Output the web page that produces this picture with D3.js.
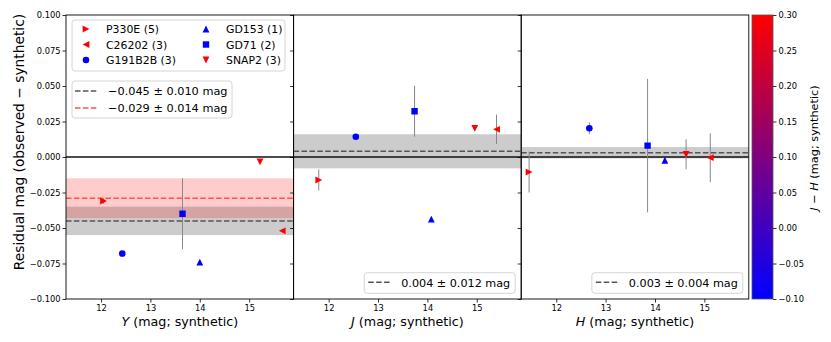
<!DOCTYPE html>
<html>
<head>
<meta charset="utf-8">
<script src="https://cdn.jsdelivr.net/npm/d3@7"></script>
<style>
  body { margin: 0; background: #fff; }
  text { font-family: "DejaVu Sans", sans-serif; }
</style>
</head>
<body>
<div id="chart"></div>
<script>
// stars, in legend order
var stars = ['P330E', 'C26202', 'G191B2B', 'GD153', 'GD71', 'SNAP2'];
var counts = [5, 3, 3, 1, 2, 3];
var shapes = ['right', 'left', 'circle', 'up', 'square', 'down'];
var jhColor = [0.34, 0.33, -0.15, -0.14, -0.16, 0.36]; // J-H, clipped by colour scale

// per band: synthetic magnitude, residual, error
var bands = ['Y', 'J', 'H'];
var magY = [12.05, 15.67, 12.43, 14.0, 13.65, 15.22];
var resY = [-0.031, -0.052, -0.068, -0.074, -0.040, -0.0035];
var errY = [0.002, 0.001, 0.001, 0.001, 0.025, 0.001];
var magJ = [11.8, 15.4, 12.55, 14.08, 13.74, 14.96];
var resJ = [-0.0162, 0.0195, 0.0143, -0.0437, 0.0322, 0.0202];
var errJ = [0.0075, 0.0103, 0.001, 0.001, 0.0179, 0.001];
var magH = [11.45, 15.12, 12.67, 14.2, 13.85, 14.63];
var resH = [-0.0106, -0.0005, 0.0202, -0.0023, 0.0080, 0.0019];
var errH = [0.0144, 0.0172, 0.0042, 0.001, 0.047, 0.0105];

// mean offsets (grey) and the alternative one in Y (red)
var meanVal = [-0.045, 0.004, 0.003];
var meanErr = [0.010, 0.012, 0.004];
var altMean = -0.029, altErr = 0.014;

var yTicks = [0.100, 0.075, 0.050, 0.025, 0.000, -0.025, -0.050, -0.075, -0.100];
var xTicks = [12, 13, 14, 15];
var cTicks = [0.30, 0.25, 0.20, 0.15, 0.10, 0.05, 0.00, -0.05, -0.10];

var mags = [magY, magJ, magH], ress = [resY, resJ, resH], errs = [errY, errJ, errH];

var W = 831, H = 342;
var mt = 15, ph = 284, pw = 227.6;
var lefts = [66, 293.6, 521.2];

var svg = d3.select('#chart').append('svg')
  .attr('width', W).attr('height', H);

var x = d3.scaleLinear().domain([11.29, 15.9]).range([0, pw]);
var y = d3.scaleLinear().domain([-0.1, 0.1]).range([ph, 0]);
var color = d3.scaleLinear().domain([-0.1, 0.3]).range(['#0000ff', '#ff0000']).clamp(true);

var fmt = function (v, n) { return (v < 0 ? '\u2212' : '') + Math.abs(v).toFixed(n); };

function marker(shape) {
  var s = 3.4;
  if (shape === 'circle') return d3.symbol(d3.symbolCircle, Math.PI * 3.3 * 3.3)();
  if (shape === 'square') return 'M-3.2,-3.2H3.2V3.2H-3.2Z';
  if (shape === 'up') return 'M0,' + (-s) + 'L' + (-s) + ',' + s + 'L' + s + ',' + s + 'Z';
  if (shape === 'down') return 'M0,' + s + 'L' + (-s) + ',' + (-s) + 'L' + s + ',' + (-s) + 'Z';
  if (shape === 'right') return 'M' + s + ',0L' + (-s) + ',' + (-s) + 'L' + (-s) + ',' + s + 'Z';
  return 'M' + (-s) + ',0L' + s + ',' + (-s) + 'L' + s + ',' + s + 'Z';
}

bands.forEach(function (band, b) {
  var g = svg.append('g').attr('transform', 'translate(' + lefts[b] + ',' + mt + ')');
  g.append('defs').append('clipPath').attr('id', 'clip' + b)
    .append('rect').attr('width', pw).attr('height', ph);
  var plot = g.append('g').attr('clip-path', 'url(#clip' + b + ')');

  // grey band and line
  plot.append('rect')
    .attr('x', 0).attr('width', pw)
    .attr('y', y(meanVal[b] + meanErr[b]))
    .attr('height', y(meanVal[b] - meanErr[b]) - y(meanVal[b] + meanErr[b]))
    .attr('fill', 'rgba(128,128,128,0.4)');
  if (b === 0) {
    plot.append('rect')
      .attr('x', 0).attr('width', pw)
      .attr('y', y(altMean + altErr))
      .attr('height', y(altMean - altErr) - y(altMean + altErr))
      .attr('fill', 'rgba(255,0,0,0.2)');
  }
  plot.append('line')
    .attr('x1', 0).attr('x2', pw)
    .attr('y1', y(meanVal[b])).attr('y2', y(meanVal[b]))
    .attr('stroke', '#555').attr('stroke-width', 1.5)
    .attr('stroke-dasharray', '5.5,2.4');
  if (b === 0) {
    plot.append('line')
      .attr('x1', 0).attr('x2', pw)
      .attr('y1', y(altMean)).attr('y2', y(altMean))
      .attr('stroke', '#ff5050').attr('stroke-width', 1.5)
      .attr('stroke-dasharray', '5.5,2.4');
  }
  // zero line
  plot.append('line')
    .attr('x1', 0).attr('x2', pw).attr('y1', y(0)).attr('y2', y(0))
    .attr('stroke', '#111').attr('stroke-width', 1.5);

  // error bars
  plot.selectAll('.err').data(stars).enter().append('line')
    .attr('x1', function (d, i) { return x(mags[b][i]); })
    .attr('x2', function (d, i) { return x(mags[b][i]); })
    .attr('y1', function (d, i) { return y(ress[b][i] + errs[b][i]); })
    .attr('y2', function (d, i) { return y(ress[b][i] - errs[b][i]); })
    .attr('stroke', '#888').attr('stroke-width', 1);

  // markers
  plot.selectAll('.pt').data(stars).enter().append('path')
    .attr('transform', function (d, i) {
      return 'translate(' + x(mags[b][i]) + ',' + y(ress[b][i]) + ')';
    })
    .attr('d', function (d, i) { return marker(shapes[i]); })
    .attr('fill', function (d, i) { return color(jhColor[i]); });

  // axes
  var yAxis = d3.axisLeft(y).tickValues(yTicks).tickSize(3.5).tickPadding(2)
    .tickFormat(b === 0 ? function (d) { return fmt(d, 3); } : '');
  var ya = g.append('g').call(yAxis);
  var xa = g.append('g').attr('transform', 'translate(0,' + ph + ')')
    .call(d3.axisBottom(x).tickValues(xTicks).tickSize(3.5).tickPadding(3)
      .tickFormat(d3.format('d')));
  [ya, xa].forEach(function (a) {
    a.select('.domain').remove();
    a.selectAll('text').attr('font-size', '8.3px').attr('font-family', 'DejaVu Sans').attr('fill', '#000');
    a.selectAll('line').attr('stroke', '#000').attr('stroke-width', 0.8);
  });
  g.append('rect').attr('width', pw).attr('height', ph)
    .attr('fill', 'none').attr('stroke', '#000').attr('stroke-width', 0.9);

  // x label
  var xl = g.append('text').attr('x', pw / 2).attr('y', 310.5)
    .attr('text-anchor', 'middle').attr('font-size', '12.7px');
  xl.append('tspan').attr('font-style', 'italic').text(band);
  xl.append('tspan').text(' (mag; synthetic)');

  // legends
  if (b === 0) {
    var lg = g.append('g');
    lg.append('rect').attr('x', 6).attr('y', 5).attr('width', 213).attr('height', 51).attr('rx', 3)
      .attr('fill', 'rgba(255,255,255,0.8)').attr('stroke', '#d5d5d5');
    stars.forEach(function (s, i) {
      var col = Math.floor(i / 3), row = i % 3;
      var cx = 20 + col * 120, cy = 14 + row * 15.5;
      lg.append('path').attr('transform', 'translate(' + cx + ',' + cy + ')')
        .attr('d', marker(shapes[i])).attr('fill', color(jhColor[i]));
      lg.append('text').attr('x', cx + 20).attr('y', cy + 4)
        .attr('font-size', '10.9px').text(s + ' (' + counts[i] + ')');
    });
    var l2 = g.append('g');
    l2.append('rect').attr('x', 6).attr('y', 66).attr('width', 160).attr('height', 37).attr('rx', 3)
      .attr('fill', 'rgba(255,255,255,0.8)').attr('stroke', '#d5d5d5');
    [[meanVal[0], meanErr[0], '#555'], [altMean, altErr, '#ff5050']].forEach(function (e, i) {
      var cy = 76 + i * 17;
      l2.append('line').attr('x1', 9).attr('x2', 32).attr('y1', cy).attr('y2', cy)
        .attr('stroke', e[2]).attr('stroke-width', 1.5).attr('stroke-dasharray', '5.5,2.4');
      l2.append('text').attr('x', 42).attr('y', cy + 4).attr('font-size', '11.3px')
        .text(fmt(e[0], 3) + ' \u00b1 ' + fmt(e[1], 3) + ' mag');
    });
  } else {
    var l3 = g.append('g');
    var box = l3.append('rect');
    var t = l3.append('text').attr('y', 271.5).attr('font-size', '11.2px')
      .text(fmt(meanVal[b], 3) + ' \u00b1 ' + fmt(meanErr[b], 3) + ' mag');
    var tw = t.node().getComputedTextLength();
    var bx = pw - 6 - (tw + 42);
    t.attr('x', bx + 37);
    box.attr('x', bx).attr('y', 257.7).attr('width', tw + 42).attr('height', 20.6).attr('rx', 3)
      .attr('fill', 'rgba(255,255,255,0.8)').attr('stroke', '#d5d5d5');
    l3.append('line').attr('x1', bx + 4).attr('x2', bx + 27).attr('y1', 267.3).attr('y2', 267.3)
      .attr('stroke', '#555').attr('stroke-width', 1.5).attr('stroke-dasharray', '5.5,2.4');
  }
});

// y label
svg.append('text').attr('transform', 'translate(24,142) rotate(-90)')
  .attr('text-anchor', 'middle').attr('font-size', '13.8px')
  .text('Residual mag (observed \u2212 synthetic)');

// colour bar
var cbx = 752, cbw = 21;
var cy = d3.scaleLinear().domain([-0.1, 0.3]).range([ph, 0]);
var grad = svg.append('defs').append('linearGradient').attr('id', 'cgrad')
  .attr('x1', 0).attr('y1', 1).attr('x2', 0).attr('y2', 0);
grad.append('stop').attr('offset', 0).attr('stop-color', color(-0.1));
grad.append('stop').attr('offset', 1).attr('stop-color', color(0.3));
var cb = svg.append('g').attr('transform', 'translate(' + cbx + ',' + mt + ')');
cb.append('rect').attr('width', cbw).attr('height', ph).attr('fill', 'url(#cgrad)')
  .attr('stroke', '#555').attr('stroke-width', 0.8);
var ca = cb.append('g').attr('transform', 'translate(' + cbw + ',0)')
  .call(d3.axisRight(cy).tickValues(cTicks).tickSize(3.5).tickPadding(2)
    .tickFormat(function (d) { return fmt(d, 2); }));
ca.select('.domain').remove();
ca.selectAll('text').attr('font-size', '8.3px').attr('font-family', 'DejaVu Sans');
ca.selectAll('line').attr('stroke', '#000').attr('stroke-width', 0.8);

var cl = svg.append('text').attr('transform', 'translate(818,148) rotate(-90)')
  .attr('text-anchor', 'middle').attr('font-size', '11.3px');
cl.append('tspan').attr('font-style', 'italic').text('J');
cl.append('tspan').text(' \u2212 ');
cl.append('tspan').attr('font-style', 'italic').text('H');
cl.append('tspan').text(' (mag; synthetic)');
</script>
</body>
</html>
